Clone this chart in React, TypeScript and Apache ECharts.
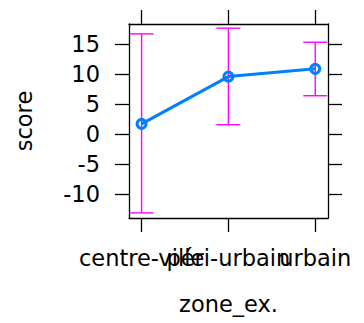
import React, { useEffect, useRef } from "react";
import * as echarts from "echarts";

const categories = ["centre-ville", "péri-urbain", "urbain"];
const means = [1.7, 9.6, 10.9];
const lowers = [-13.2, 1.55, 6.4];
const uppers = [16.75, 17.7, 15.35];
const yTicks = [-10, -5, 0, 5, 10, 15];
const xPositions = [1, 2, 3];

const FONT = "DejaVu Sans";
const FS = 22.5;

export default function App() {
  const ref = useRef<HTMLDivElement>(null);
  useEffect(() => {
    if (!ref.current) return;
    const chart = echarts.init(ref.current, undefined, { renderer: "svg" });
    const axisLine = { show: true, onZero: false, lineStyle: { color: "#000", width: 1.3 } };
    const tick = (vals: number[]) => ({
      show: true,
      inside: false,
      length: 14,
      customValues: vals,
      lineStyle: { color: "#000", width: 1.3 },
    });
    const labelBase = { color: "#000", fontFamily: FONT, fontSize: FS };
    const xCommon = {
      type: "value" as const,
      min: 0.855,
      max: 3.147,
      splitLine: { show: false },
      axisLine,
    };
    const yCommon = {
      type: "value" as const,
      min: -14.05,
      max: 18.4,
      splitLine: { show: false },
      axisLine,
    };
    // padding entries (empty labels) keep the min/max overlap check away from the real labels
    const xLabelValues = [0.86, ...xPositions, 3.14];
    chart.setOption({
      animation: false,
      backgroundColor: "#fff",
      grid: { left: 129, right: 36, top: 24, bottom: 105, containLabel: false },
      xAxis: [
        {
          ...xCommon,
          position: "bottom",
          axisTick: tick(xPositions),
          axisLabel: {
            ...labelBase,
            margin: 28,
            customValues: xLabelValues,
            hideOverlap: false,
            formatter: (v: number) => {
              const r = Math.round(v);
              if (Math.abs(v - r) > 0.01) return "";
              return categories[r - 1] ?? "";
            },
          },
          name: "zone_ex.",
          nameLocation: "middle",
          nameGap: 74,
          nameMoveOverlap: false,
          nameTextStyle: { ...labelBase },
        },
        {
          ...xCommon,
          position: "top",
          axisTick: tick(xPositions),
          axisLabel: { show: false },
        },
      ],
      yAxis: [
        {
          ...yCommon,
          position: "left",
          axisTick: tick(yTicks),
          axisLabel: {
            ...labelBase,
            margin: 29,
            customValues: yTicks,
            showMinLabel: true,
            showMaxLabel: true,
            formatter: (v: number) => String(v),
          },
          name: "score",
          nameLocation: "middle",
          nameGap: 94,
          nameMoveOverlap: false,
          nameTextStyle: { ...labelBase },
        },
        {
          ...yCommon,
          position: "right",
          axisTick: tick(yTicks),
          axisLabel: { show: false },
        },
      ],
      series: [
        {
          type: "custom",
          xAxisIndex: 0,
          yAxisIndex: 0,
          data: xPositions.map((x, i) => [x, lowers[i], uppers[i]]),
          encode: { x: 0, y: [1, 2] },
          z: 1,
          renderItem: (params: any, api: any) => {
            const x = api.value(0);
            const lo = api.coord([x, api.value(1)]);
            const hi = api.coord([x, api.value(2)]);
            const hw = 12;
            const style = { stroke: "#ff00ff", lineWidth: 1.4 };
            return {
              type: "group",
              children: [
                { type: "line", shape: { x1: lo[0], y1: lo[1], x2: hi[0], y2: hi[1] }, style },
                { type: "line", shape: { x1: hi[0] - hw, y1: hi[1], x2: hi[0] + hw, y2: hi[1] }, style },
                { type: "line", shape: { x1: lo[0] - hw, y1: lo[1], x2: lo[0] + hw, y2: lo[1] }, style },
              ],
            };
          },
        },
        {
          type: "line",
          xAxisIndex: 0,
          yAxisIndex: 0,
          z: 3,
          data: xPositions.map((x, i) => [x, means[i]]),
          symbol: "circle",
          symbolSize: 9,
          lineStyle: { color: "#0080ff", width: 3 },
          itemStyle: { color: "rgba(0,0,0,0)", borderColor: "#0080ff", borderWidth: 3 },
        },
      ],
    });
    return () => chart.dispose();
  }, []);
  return (
    <div
      ref={ref}
      style={{ position: "fixed", left: 0, top: 0, width: 364, height: 323 }}
    />
  );
}
